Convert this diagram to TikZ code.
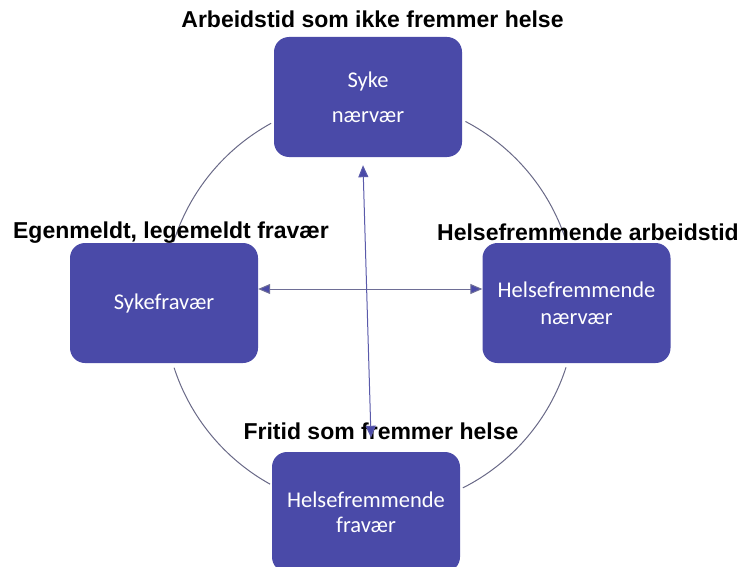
\documentclass[tikz,border=0pt]{standalone}
\usepackage{fontspec}
\setmainfont{Carlito}
\newfontfamily\labfont{Liberation Sans}
\usetikzlibrary{arrows.meta,calc}
\definecolor{boxblue}{RGB}{74,74,168}
\definecolor{arcgray}{RGB}{105,105,135}
\definecolor{arrline}{RGB}{110,110,150}
\definecolor{arrvert}{RGB}{90,90,170}
\tikzset{
  statebox/.style={fill=boxblue, draw=none, rounded corners=15pt, minimum width=188pt, minimum height=120pt, inner sep=0pt, text=white, align=center},
  toplabel/.style={font=\labfont\bfseries\fontsize{23}{27}\selectfont, anchor=base, inner sep=0pt, text=black},
  ring/.style={draw=arcgray, line width=1pt},
  dbl/.style={line width=1pt, {Triangle[length=12pt,width=10pt,fill=boxblue]}-{Triangle[length=12pt,width=10pt,fill=boxblue]}}
}
\begin{document}
\begin{tikzpicture}[x=1pt,y=1pt]
\useasboundingbox (0,0) rectangle (743,566);
\clip (0,0) rectangle (743,566);
\coordinate (C) at (370,262);
% ring arcs
\draw[ring] ($(C)+(118.7:206)$) arc[start angle=118.7, end angle=162.5, radius=206];
\draw[ring] ($(C)+(198:206)$) arc[start angle=198, end angle=241, radius=206];
\draw[ring] ($(C)+(-63.2:206)$) arc[start angle=-63.2, end angle=-17.9, radius=206];
\draw[ring] ($(C)+(18.5:206)$) arc[start angle=18.5, end angle=62.4, radius=206];
% boxes
\node[statebox, font=\fontsize{22.5}{35}\selectfont] (T) at (368,469) {Syke\\nærvær};
\node[statebox, font=\fontsize{22.5}{27}\selectfont] (L) at (164,263) {Sykefravær};
\node[statebox, font=\fontsize{22.5}{27}\selectfont] (R) at (576.5,263) {Helsefremmende\\nærvær};
\node[statebox, font=\fontsize{22.5}{25}\selectfont] (B) at (366,54) {Helsefremmende\\fravær};
% labels
\node[toplabel] (lt) at (372.5,538) {Arbeidstid som ikke fremmer helse};
\node[toplabel] (ll) at (171,328) {Egenmeldt, legemeldt fravær};
\node[toplabel] (lr) at (588,326) {Helsefremmende arbeidstid};
\node[toplabel] (lb) at (381,127) {Fritid som fremmer helse};
% arrows
\coordinate (h1) at ($(L.east)+(0,14)$);
\coordinate (h2) at ($(R.west)+(0,14)$);
\draw[dbl, draw=arrline] (h1) -- (h2);
\coordinate (v1) at ($(T.south)+(-5,-8)$);
\coordinate (v2) at ($(B.north)+(5,14)$);
\draw[dbl, draw=arrvert] (v1) -- (v2);
\end{tikzpicture}
\end{document}
